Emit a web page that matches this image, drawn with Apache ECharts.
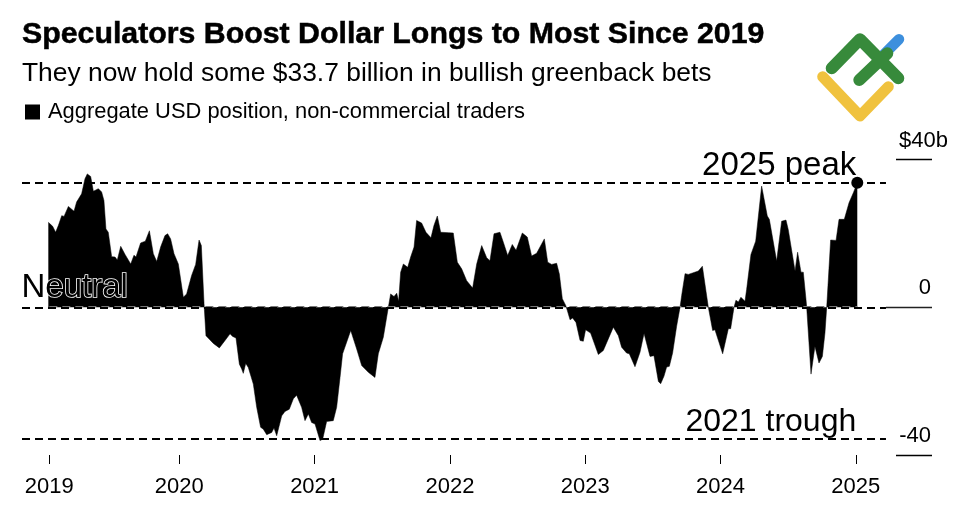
<!DOCTYPE html>
<html><head><meta charset="utf-8">
<style>html,body{margin:0;padding:0;background:#fff}#c{width:968px;height:513px}</style>
<script src="https://cdn.jsdelivr.net/npm/echarts@6/dist/echarts.min.js"></script>
</head><body><div id="c"></div>
<script>
const titleText = 'Speculators Boost Dollar Longs to Most Since 2019';
const subtitleText = 'They now hold some $33.7 billion in bullish greenback bets';
const seriesName = 'Aggregate USD position, non-commercial traders';

// Date as a decimal year, position in $ billions
const years = [
2019.032,2019.064,2019.086,2019.106,2019.131,2019.148,2019.180,2019.222,2019.241,2019.278,2019.303,2019.320,2019.345,2019.365,2019.402,2019.426,2019.443,2019.458,2019.475,2019.500,2019.525,2019.542,2019.567,2019.599,2019.641,2019.665,2019.680,2019.714,2019.749,2019.779,2019.808,2019.833,2019.862,2019.894,2019.914,2019.936,2019.961,2019.993,
2020.030,2020.054,2020.091,2020.121,2020.146,2020.163,2020.183,2020.197,2020.252,2020.296,2020.338,2020.375,2020.394,2020.419,2020.444,2020.461,2020.473,2020.491,2020.510,2020.547,2020.572,2020.601,2020.621,2020.646,2020.683,2020.700,2020.720,2020.757,2020.781,2020.813,2020.843,2020.867,2020.904,2020.929,2020.954,2020.978,
2021.003,2021.040,2021.060,2021.089,2021.138,2021.163,2021.188,2021.207,2021.267,2021.311,2021.348,2021.397,2021.446,2021.471,2021.508,2021.545,2021.562,2021.587,2021.607,2021.621,2021.636,2021.656,2021.688,2021.710,2021.735,2021.754,2021.791,2021.823,2021.860,2021.882,2021.907,2021.932,2021.988,
2022.025,2022.055,2022.087,2022.124,2022.168,2022.198,2022.235,2022.272,2022.296,2022.326,2022.370,2022.395,2022.427,2022.461,2022.489,2022.535,2022.572,2022.604,2022.641,2022.698,2022.723,2022.752,2022.789,2022.809,2022.831,2022.856,2022.868,2022.888,2022.907,2022.932,2022.962,2022.986,
2023.003,2023.040,2023.097,2023.134,2023.208,2023.245,2023.269,2023.306,2023.326,2023.368,2023.405,2023.435,2023.479,2023.508,2023.541,2023.558,2023.582,2023.602,2023.622,2023.646,2023.676,2023.701,2023.713,2023.738,2023.762,2023.836,2023.866,2023.910,2023.942,2023.959,
2024.016,2024.058,2024.075,2024.100,2024.114,2024.132,2024.151,2024.181,2024.193,2024.225,2024.260,2024.304,2024.346,2024.361,2024.415,2024.452,2024.484,2024.501,2024.551,2024.570,2024.595,2024.612,2024.632,2024.637,2024.669,2024.698,2024.728,2024.753,2024.772,2024.785,2024.814,2024.854,2024.876,2024.915,2024.950,2024.982,
2025.011];
const positions = [
23.0,21.9,20.3,22.1,24.8,24.6,27.3,26.0,28.5,30.7,34.8,36.1,35.4,31.4,32.1,31.2,28.9,21.2,20.3,13.7,13.6,12.8,16.5,14.3,11.7,14.1,13.6,17.4,17.9,20.7,14.5,12.4,16.3,19.4,19.9,18.5,14.5,11.7,
2.7,3.6,8.6,11.6,18.2,16.7,0.9,-7.7,-9.8,-11.0,-9.0,-7.2,-7.9,-8.3,-15.4,-16.7,-17.9,-15.2,-16.3,-20.8,-27.1,-32.5,-33.0,-34.5,-33.9,-32.7,-34.8,-29.4,-28.2,-27.6,-24.8,-23.8,-27.1,-30.7,-28.9,-31.2,
-31.6,-36.1,-35.7,-30.9,-30.7,-27.1,-19.0,-12.6,-6.3,-11.3,-15.8,-17.6,-19.0,-12.6,-8.1,0,3.6,2.9,3.8,1.6,9.5,11.7,10.8,13.6,16.3,23.5,22.8,20.3,18.8,22.1,24.7,20.3,20.2,
20.1,12.2,10.4,7.2,5.2,11.7,16.7,13.4,12.6,19.9,20.3,17.6,14.0,17.0,15.4,20.1,19.0,13.9,14.6,18.5,12.2,11.6,11.9,9.0,2.3,0.5,-0.9,-3.4,-2.9,-4.1,-9.0,-9.2,
-6.1,-7.0,-12.8,-11.7,-5.4,-7.7,-10.8,-12.4,-12.6,-16.1,-12.2,-7.1,-13.3,-13.1,-20.1,-20.7,-18.7,-16.2,-16.0,-12.4,-5.1,0,3.2,9.1,8.9,9.8,11.1,0,-6.3,-6.1,
-12.6,-5.8,-5.8,0,1.9,1.4,2.7,1.6,4.8,14.3,17.9,32.8,24.7,23.8,12.5,23.3,23.6,21.0,9.8,14.9,9.5,9.5,2.1,0,-18.1,-10.6,-15.1,-13.3,-7.0,0,18.2,18.1,23.8,23.8,28.3,31.0,
33.7];

const xTickValues = [2019.039,2020,2021,2022,2023,2024,2025];
const xTickLabels = ['2019','2020','2021','2022','2023','2024','2025'];
const yTickValues = [-40,0,40];
const yRuleValues = [-40,40];
const peakValue = 33.7, troughValue = -35.7;
const xMin = 2018.8374, xMax = 2025.5632, dashEnd = 2025.223;
const FONT = '"Liberation Sans", Arial, sans-serif';
const INK = '#000';

const dashed = {type:[8,5], width:2, color:INK};
const seg = (a,b,v,style) => [{coord:[a,v],lineStyle:style},{coord:[b,v]}];
const note = (x,y,text,align,extra) => ({
  coord:[x,y], symbol:'circle', symbolSize:1, itemStyle:{color:'transparent'},
  label:Object.assign({show:true, formatter:text, position:[0,0], align, verticalAlign:'middle',
    fontFamily:FONT, fontSize:33, color:INK}, extra||{})
});

const chart = echarts.init(document.getElementById('c'), null, {renderer:'canvas'});
chart.setOption({
  animation:false,
  backgroundColor:'#fff',
  title:[
    {text:titleText,left:22,top:19.5,padding:0,textStyle:{fontFamily:FONT,fontSize:30.3,fontWeight:'bold',color:INK,textBorderColor:INK,textBorderWidth:0.5}},
    {text:subtitleText,left:22,top:60.5,padding:0,textStyle:{fontFamily:FONT,fontSize:26.4,fontWeight:'normal',color:INK}}
  ],
  legend:{left:25,top:101,padding:0,itemWidth:15,itemHeight:15,itemGap:8,icon:'rect',
    data:[{name:seriesName,itemStyle:{color:INK}}],
    textStyle:{fontFamily:FONT,fontSize:21.9,color:INK,padding:[0,0,0,3]}},
  grid:{left:22,right:36,top:159.5,bottom:58,containLabel:false},
  xAxis:{type:'value',min:xMin,max:xMax,splitLine:{show:false},axisLine:{show:false,onZero:false},
    axisTick:{show:true,length:9,lineStyle:{color:INK,width:1},customValues:xTickValues},
    axisLabel:{margin:21,fontFamily:FONT,fontSize:22,color:INK,customValues:xTickValues,
      formatter:v=>xTickLabels[xTickValues.indexOf(v)]}},
  yAxis:{type:'value',min:-40,max:40,interval:40,position:'right',splitLine:{show:false},axisLine:{show:false,onZero:false},
    axisTick:{show:true,inside:true,length:36,lineStyle:{color:INK,width:1.3},customValues:yRuleValues},
    axisLabel:{inside:true,margin:-16,align:'right',verticalAlign:'bottom',padding:[0,0,8,0],fontFamily:FONT,fontSize:22,color:INK,
      customValues:yTickValues,
      formatter:v=>v===40?'$40b':v+'{p|}',rich:{p:{width:17}}}},
  series:[{
    type:'line',name:seriesName,data:years.map((y,i)=>[y,positions[i]]),
    showSymbol:false,symbol:'none',smooth:false,sampling:'none',
    lineStyle:{width:0.5,color:INK},areaStyle:{color:INK,opacity:1},itemStyle:{color:INK},
    markLine:{silent:true,symbol:'none',label:{show:false},animation:false,
      data:[seg(xMin,dashEnd,peakValue,dashed),seg(xMin,dashEnd,0,dashed),seg(xMin,dashEnd,troughValue,dashed),
        seg(years[0],years[years.length-1],0.2,{type:[8,5],width:1,color:'#777',dashOffset:-1}),
        seg(dashEnd,xMax,0,{type:'solid',width:1.3,color:'#222'})]},
    markPoint:{silent:true,animation:false,
      data:[
        {coord:[years[years.length-1],peakValue],symbol:'circle',symbolSize:12,itemStyle:{color:INK},label:{show:false}},
        note(2025.007,38,'2025 peak','right'),
        note(2025.007,-31.3,'2021 trough','right',{fontSize:32}),
        note(xMin,5,'Neutral','left',{fontSize:33,textBorderColor:'#fff',textBorderWidth:1.6})
      ]}
  }],
  graphic:[
    {type:'polyline',shape:{points:[[883.3,55],[899,39.3]]},style:{stroke:'#3d8fdd',lineWidth:10.5,lineCap:'round',fill:null}},
    {type:'polyline',shape:{points:[[831.7,68.3],[860,39.3],[898.3,78.3]]},style:{stroke:'#378a3b',lineWidth:12,lineCap:'round',lineJoin:'round',fill:null}},
    {type:'polyline',shape:{points:[[859.3,80],[887.3,53.3]]},style:{stroke:'#378a3b',lineWidth:12,lineCap:'round',fill:null}},
    {type:'polyline',shape:{points:[[822.7,76.7],[860,116],[888.3,86.7]]},style:{stroke:'#f0c23e',lineWidth:11,lineCap:'round',lineJoin:'round',fill:null}}
  ]
});
</script></body></html>
